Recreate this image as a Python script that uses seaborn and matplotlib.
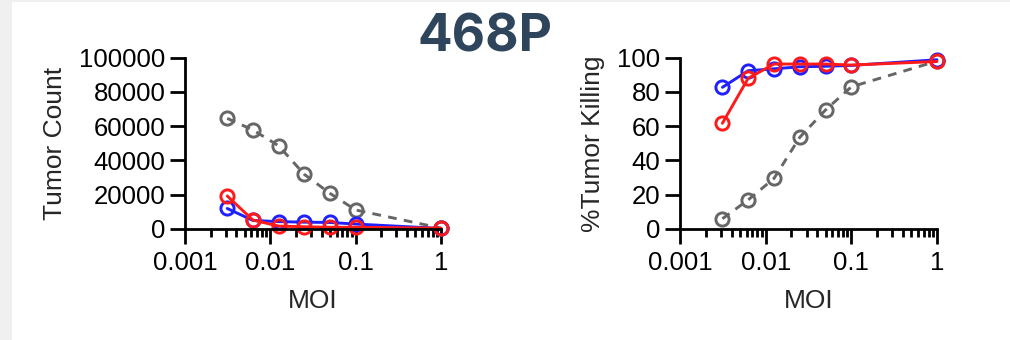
import matplotlib
matplotlib.use('Agg')
import matplotlib.pyplot as plt
from matplotlib.patches import Rectangle
from matplotlib.ticker import FixedLocator, LogLocator, NullFormatter
import pandas as pd
import seaborn as sns

# values
moi = [0.003125, 0.00625, 0.0125, 0.025, 0.05, 0.1, 1]
count_gray = [64600, 57800, 48600, 31900, 20800, 11100, 500]
count_blue = [12000, 5000, 4300, 4000, 3800, 2900, 300]
count_red = [19300, 5200, 1700, 1300, 1000, 1000, 500]
kill_gray = [6, 17, 29.5, 53.5, 69.5, 83, 98]
kill_blue = [82.7, 92.4, 93.5, 94.7, 95, 95.5, 98.8]
kill_red = [61.7, 88, 96.3, 96.3, 96.3, 95.7, 97.8]
series = ['gray', 'blue', 'red']
x_ticks = [0.001, 0.01, 0.1, 1]
x_ticklabels = ['0.001', '0.01', '0.1', '1']

rows = []
for s, c, k in zip(series, [count_gray, count_blue, count_red], [kill_gray, kill_blue, kill_red]):
    for m, cv, kv in zip(moi, c, k):
        rows.append({'series': s, 'MOI': m, 'count': cv, 'kill': kv})
df = pd.DataFrame(rows)

sns.set_style('ticks')
plt.rcParams['font.family'] = ['Liberation Sans', 'DejaVu Sans']

colors = {'gray': '#666666', 'blue': '#1f1fff', 'red': '#ff1a1a'}
lstyles = {'gray': (0, (3, 2.5)), 'blue': '-', 'red': '-'}

fig = plt.figure(figsize=(10.1, 3.4), dpi=100, facecolor='#f0f0f0')
fig.patches.append(Rectangle((12 / 1010, 0), 1, 1 - 2 / 340, transform=fig.transFigure,
                             facecolor='white', edgecolor='none', zorder=-10))

bottom = 1 - 229 / 340
height = (229 - 57.7) / 340
ax1 = fig.add_axes([185 / 1010, bottom, (441 - 185) / 1010, height])
ax2 = fig.add_axes([680 / 1010, bottom, (937 - 680) / 1010, height])

for ax, col, ylab, ymax, ystep in [(ax1, 'count', 'Tumor Count', 100000, 20000),
                                     (ax2, 'kill', '%Tumor Killing', 100, 20)]:
    ax.set_facecolor('none')
    ax.set_xscale('log')
    for s in series:
        sub = df[df['series'] == s]
        sns.lineplot(data=sub, x='MOI', y=col, ax=ax, color=colors[s], linestyle=lstyles[s],
                     marker='o', markersize=9.5, markerfacecolor='none',
                     markeredgecolor=colors[s], markeredgewidth=2.1, linewidth=2.1,
                     clip_on=False, legend=False)
    ax.set_xlim(0.001, 1)
    ax.set_ylim(0, ymax)
    ax.xaxis.set_major_locator(FixedLocator(x_ticks))
    ax.set_xticklabels(x_ticklabels)
    ax.xaxis.set_minor_locator(LogLocator(base=10, subs=range(2, 10)))
    ax.xaxis.set_minor_formatter(NullFormatter())
    ax.set_yticks(range(0, ymax + 1, ystep))
    ax.set_yticklabels([str(v) for v in range(0, ymax + 1, ystep)])
    sns.despine(ax=ax)
    for sp in ['left', 'bottom']:
        ax.spines[sp].set_linewidth(2)
        ax.spines[sp].set_color('black')
    ax.tick_params(which='major', length=11, width=2, labelsize=18.5, colors='black', pad=3)
    ax.tick_params(axis='x', which='major', pad=5)
    ax.tick_params(which='minor', length=6, width=2, colors='black')
    ax.set_xlabel('MOI', fontsize=19, labelpad=10)
    ax.set_ylabel(ylab, fontsize=19, labelpad=9)

fig.text(485 / 1010, 1 - 52 / 340, '468P', ha='center', va='baseline',
         fontsize=37, fontweight='bold', family=['Inter', 'DejaVu Sans'], color='#2f455c')

fig.savefig('out.png', dpi=100, facecolor=fig.get_facecolor())
